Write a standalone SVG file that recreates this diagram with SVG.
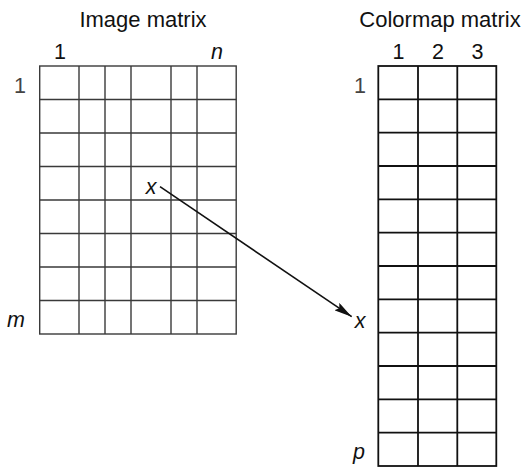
<svg xmlns="http://www.w3.org/2000/svg" width="521" height="470" viewBox="0 0 521 470">
<defs>
<style>
.t{font-family:"Liberation Sans",Arial,sans-serif;fill:#111}
.ttl{font-size:22px}
.lbl{font-size:21.5px}
.it{font-style:italic}
.g1{stroke:#3a3a3a;stroke-width:1.4;fill:none}
.g2{stroke:#111;stroke-width:1.8;fill:none}
.gray{fill:#444}
</style>
<marker id="ah" viewBox="0 0 18 9" refX="18" refY="4.5" markerWidth="18" markerHeight="9" markerUnits="userSpaceOnUse" orient="auto">
<path d="M0,0 L18,4.5 L0,9 L3,4.5 Z" fill="#111"/>
</marker>
</defs>
<rect width="521" height="470" fill="#fff"/>
<g id="image-matrix">
<text class="t ttl" x="143" y="27" text-anchor="middle">Image matrix</text>
<text class="t lbl" x="60" y="58.5" text-anchor="middle">1</text>
<text class="t lbl it" x="217" y="58.5" text-anchor="middle">n</text>
<text class="t lbl gray" x="20" y="92.5" text-anchor="middle">1</text>
<text class="t lbl it" x="16" y="327" text-anchor="middle">m</text>
<rect class="g1" x="39.7" y="66" width="196.5" height="268"/>
<path class="g1" d="M79,66V334M105,66V334M131,66V334M171,66V334M197,66V334M39.7,99.5H236.2M39.7,133H236.2M39.7,166.5H236.2M39.7,200H236.2M39.7,233.5H236.2M39.7,267H236.2M39.7,300.5H236.2"/>
<text class="t lbl it" x="151" y="193.5" text-anchor="middle">x</text>
</g>
<g id="colormap-matrix">
<text class="t ttl" x="440" y="27" text-anchor="middle">Colormap matrix</text>
<text class="t lbl" x="398.5" y="58.5" text-anchor="middle">1</text>
<text class="t lbl" x="438" y="58.5" text-anchor="middle">2</text>
<text class="t lbl" x="477.5" y="58.5" text-anchor="middle">3</text>
<text class="t lbl gray" x="360" y="92.5" text-anchor="middle">1</text>
<text class="t lbl it" x="360" y="327.5" text-anchor="middle">x</text>
<text class="t lbl it" x="359" y="459" text-anchor="middle">p</text>
<rect class="g2" x="378.3" y="66" width="118" height="400"/>
<path class="g2" d="M418,66V466M457.3,66V466M378.3,99.3H496.3M378.3,132.7H496.3M378.3,166H496.3M378.3,199.3H496.3M378.3,232.7H496.3M378.3,266H496.3M378.3,299.3H496.3M378.3,332.7H496.3M378.3,366H496.3M378.3,399.3H496.3M378.3,432.7H496.3"/>
</g>
<g id="connectors">
<line x1="160" y1="186.7" x2="351.7" y2="316.7" stroke="#111" stroke-width="1.6" marker-end="url(#ah)"/>
</g>
</svg>
